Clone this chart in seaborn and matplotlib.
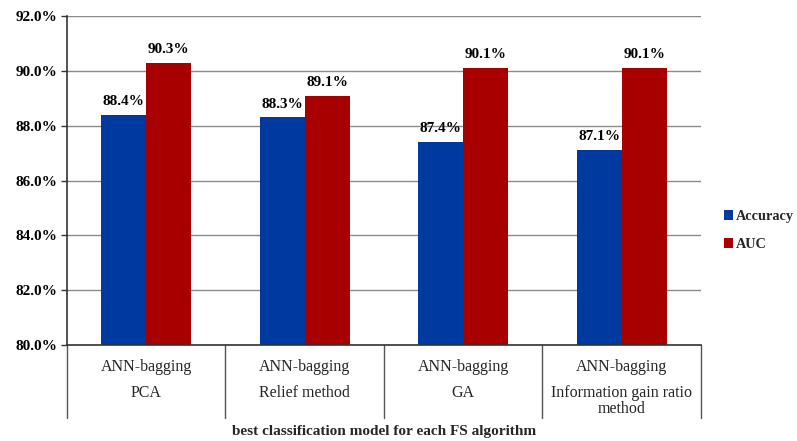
import matplotlib
matplotlib.use("Agg")
import matplotlib.pyplot as plt
import matplotlib.transforms as mtransforms
from matplotlib.patches import Patch
from matplotlib.ticker import FuncFormatter, MultipleLocator
import pandas as pd
import seaborn as sns

# Results of the best classifier for each feature-selection algorithm
models = ["ANN-bagging", "ANN-bagging", "ANN-bagging", "ANN-bagging"]
fs_algorithms = ["PCA", "Relief method", "GA", "Information gain ratio\nmethod"]
accuracy = [88.4, 88.3, 87.4, 87.1]
auc = [90.3, 89.1, 90.1, 90.1]
metrics = ["Accuracy", "AUC"]
colors = ["#0039A0", "#A80000"]

df = pd.DataFrame({
    "algorithm": fs_algorithms * 2,
    "metric": [metrics[0]] * len(accuracy) + [metrics[1]] * len(auc),
    "value": accuracy + auc,
})

sns.set_theme(style="white")
plt.rcParams["font.family"] = ["Liberation Serif", "DejaVu Serif"]

fig = plt.figure(figsize=(7.97, 4.41), dpi=100)
ax = fig.add_axes([0.084, 0.2177, 0.7955, 0.746])

sns.barplot(data=df, x="algorithm", y="value", hue="metric",
            order=fs_algorithms, hue_order=metrics, palette=colors,
            width=0.57, gap=0, saturation=1, legend=False, ax=ax,
            linewidth=0)

ax.set_ylim(80, 92)
ax.yaxis.set_major_locator(MultipleLocator(2))
ax.yaxis.set_major_formatter(FuncFormatter(lambda v, _: f"{v:.1f}%"))
ax.set_xlim(-0.5, len(fs_algorithms) - 0.5)
ax.grid(axis="y", color="#8a8a8a", linewidth=1.0)
ax.set_axisbelow(True)

for side in ("top", "right"):
    ax.spines[side].set_visible(False)
for side in ("left", "bottom"):
    ax.spines[side].set_color("#333333")
    ax.spines[side].set_linewidth(1.2)

ax.tick_params(axis="y", which="major", left=True, length=4, width=1,
               color="#333333", pad=3)
for lab in ax.get_yticklabels():
    lab.set_fontweight("bold")
    lab.set_fontsize(11)
    lab.set_color("black")

# value labels above each bar
for cont in ax.containers:
    ax.bar_label(cont, labels=[f"{v:.1f}%" for v in cont.datavalues],
                 padding=5, fontsize=11, fontweight="bold", color="black")

# category labels: model name on the first line, FS algorithm below
ax.set_xticks(range(len(fs_algorithms)))
ax.set_xticklabels(models, fontsize=11.5)
ax.tick_params(axis="x", length=0, pad=10)
trans = mtransforms.blended_transform_factory(ax.transData, ax.transAxes)
for i, name in enumerate(fs_algorithms):
    ax.text(i, -0.122, name, transform=trans, ha="center", va="top",
            fontsize=11.5, linespacing=0.95, clip_on=False)

# vertical separators between categories, extending below the axis
for b in range(len(fs_algorithms) + 1):
    ax.plot([b - 0.5, b - 0.5], [0, -0.222], transform=trans,
            color="#555555", linewidth=1, clip_on=False)

ax.set_ylabel("")
ax.set_xlabel("best classification model for each FS algorithm",
              fontsize=11, fontweight="bold")
ax.xaxis.set_label_coords(0.5, -0.243)

handles = [Patch(facecolor=c, edgecolor="none") for c in colors]
leg = fig.legend(handles, metrics, loc="upper left",
                 bbox_to_anchor=(0.909, 0.524), frameon=False,
                 handlelength=0.62, handleheight=0.62, handletextpad=0.15,
                 labelspacing=1.05, borderaxespad=0, borderpad=0,
                 prop={"family": "Liberation Serif", "weight": "bold",
                       "size": 10.3})

fig.savefig("out.png", dpi=100, facecolor="white")
